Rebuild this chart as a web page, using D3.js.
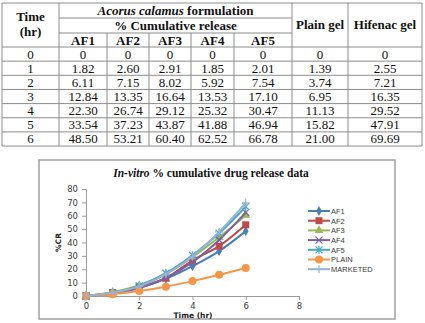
<!DOCTYPE html>
<html>
<head>
<meta charset="utf-8">
<script src="https://cdn.jsdelivr.net/npm/d3@7"></script>
<style>
  body { margin: 0; background: #fff; }
  svg { display: block; }
</style>
</head>
<body>
<div id="chart"></div>
<script>
// data
const time = [0, 1, 2, 3, 4, 5, 6];
const af1 = [0, 1.82, 6.11, 12.84, 22.30, 33.54, 48.50];
const af2 = [0, 2.60, 7.15, 13.35, 26.74, 37.23, 53.21];
const af3 = [0, 2.91, 8.02, 16.64, 29.12, 43.87, 60.40];
const af4 = [0, 1.85, 5.92, 13.53, 25.32, 41.88, 62.52];
const af5 = [0, 2.01, 7.54, 17.10, 30.47, 46.94, 66.78];
const plain = [0, 1.39, 3.74, 6.95, 11.13, 15.82, 21.00];
const hifenac = [0, 2.55, 7.21, 16.35, 29.52, 47.91, 69.69];

const tableCols = ["AF1", "AF2", "AF3", "AF4", "AF5"];
const seriesNames = ["AF1", "AF2", "AF3", "AF4", "AF5", "PLAIN", "MARKETED"];
const xTicks = [0, 2, 4, 6, 8];
const yTicks = [0, 10, 20, 30, 40, 50, 60, 70, 80];

const W = 425, H = 323;
const svg = d3.select("#chart").append("svg")
    .attr("width", W).attr("height", H);

// ---------- table ----------
const serif = "'Liberation Serif', 'Times New Roman', serif";
const colX = [2, 59, 107, 149, 191, 234, 292, 348, 422];
const hdrY = [3, 18, 33, 47];
const rowY = d3.range(8).map(i => 47 + i * 14.15);
const lineCol = "#8c8c8c";

const tbl = svg.append("g");

function hline(x1, x2, y) {
    tbl.append("line").attr("x1", x1).attr("x2", x2).attr("y1", y).attr("y2", y)
        .attr("stroke", lineCol).attr("stroke-width", 1);
}
function vline(x, y1, y2) {
    tbl.append("line").attr("x1", x).attr("x2", x).attr("y1", y1).attr("y2", y2)
        .attr("stroke", lineCol).attr("stroke-width", 1);
}

hline(colX[0], colX[8], hdrY[0]);
hline(colX[1], colX[6], hdrY[1]);
hline(colX[1], colX[6], hdrY[2]);
rowY.forEach(y => hline(colX[0], colX[8], y));
[0, 1, 6, 7, 8].forEach(i => vline(colX[i], hdrY[0], rowY[7]));
[2, 3, 4, 5].forEach(i => vline(colX[i], hdrY[2], rowY[7]));

function cellText(x, y, txt, bold) {
    return tbl.append("text").attr("x", x).attr("y", y)
        .attr("text-anchor", "middle")
        .attr("font-family", serif).attr("font-size", 13)
        .attr("font-weight", bold ? "bold" : "normal")
        .attr("fill", "#111").text(txt);
}

const mid = (a, b) => (a + b) / 2;
cellText(mid(colX[0], colX[1]), 21, "Time", true);
cellText(mid(colX[0], colX[1]), 36, "(hr)", true);
const hdr1 = cellText(mid(colX[1], colX[6]), 15, "", true);
hdr1.append("tspan").attr("font-style", "italic").text("Acorus calamus");
hdr1.append("tspan").text(" formulation");
cellText(mid(colX[1], colX[6]), 30, "% Cumulative release", true);
tableCols.forEach((c, i) => cellText(mid(colX[i + 1], colX[i + 2]), 44.5, c, true));
cellText(mid(colX[6], colX[7]), 29, "Plain gel", true);
cellText(mid(colX[7], colX[8]), 29, "Hifenac gel", true);

const cols = [af1, af2, af3, af4, af5, plain, hifenac];
time.forEach((t, r) => {
    const y = rowY[r] + 11.5;
    cellText(mid(colX[0], colX[1]), y, t, false);
    cols.forEach((arr, c) => {
        const v = arr[r];
        cellText(mid(colX[c + 1], colX[c + 2]), y, v === 0 ? "0" : v.toFixed(2), false);
    });
});

// ---------- chart ----------
const sans = "'DejaVu Sans', Verdana, sans-serif";
const frame = {x: 39, y: 160, w: 356, h: 159};
svg.append("rect")
    .attr("x", frame.x).attr("y", frame.y).attr("width", frame.w).attr("height", frame.h)
    .attr("fill", "#fff").attr("stroke", "#a0a0a0").attr("stroke-width", 1.5);

const x = d3.scaleLinear().domain([0, 8]).range([86, 299]);
const y = d3.scaleLinear().domain([0, 80]).range([296, 189]);

const title = svg.append("text")
    .attr("x", 211).attr("y", 177)
    .attr("text-anchor", "middle")
    .attr("font-family", serif).attr("font-size", 11.5).attr("font-weight", "bold")
    .attr("fill", "#111");
title.append("tspan").attr("font-style", "italic").text("In-vitro");
title.append("tspan").text(" % cumulative drug release data");

const yAxis = svg.append("g")
    .attr("transform", `translate(${x(0)},0)`)
    .call(d3.axisLeft(y).tickValues(yTicks).tickSize(4).tickPadding(4));
const xAxis = svg.append("g")
    .attr("transform", `translate(0,${y(0)})`)
    .call(d3.axisBottom(x).tickValues(xTicks).tickSize(4).tickPadding(3));

[yAxis, xAxis].forEach(a => {
    a.select(".domain").attr("stroke", "#9a9a9a");
    a.selectAll(".tick line").attr("stroke", "#9a9a9a");
    a.selectAll(".tick text").attr("font-family", sans).attr("font-size", 8.5).attr("fill", "#404040");
});

svg.append("text")
    .attr("transform", `translate(61,${y(40)}) rotate(-90)`)
    .attr("text-anchor", "middle")
    .attr("font-family", sans).attr("font-size", 7.5).attr("font-weight", "bold")
    .attr("fill", "#222").text("%CR");

svg.append("text")
    .attr("x", 193).attr("y", 317.5)
    .attr("text-anchor", "middle")
    .attr("font-family", sans).attr("font-size", 7.5).attr("font-weight", "bold")
    .attr("fill", "#222").text("Time (hr)");

// series styles
const colors = ["#4a7ebb", "#be4b48", "#98b954", "#7d60a0", "#46aac5", "#f79646", "#95b3d7"];
const markers = ["diamond", "square", "triangle", "x", "star", "circle", "plus"];
const seriesData = [af1, af2, af3, af4, af5, plain, hifenac];

function drawMarker(g, type, color) {
    if (type === "diamond") {
        g.append("path").attr("d", d3.symbol(d3.symbolDiamond, 28)()).attr("fill", color);
    } else if (type === "square") {
        g.append("rect").attr("x", -3.5).attr("y", -3.5).attr("width", 7).attr("height", 7).attr("fill", color);
    } else if (type === "triangle") {
        g.append("path").attr("d", d3.symbol(d3.symbolTriangle, 34)()).attr("fill", color);
    } else if (type === "circle") {
        g.append("circle").attr("r", 4).attr("fill", color);
    } else if (type === "x") {
        g.append("path").attr("d", "M-3.5,-3.5L3.5,3.5M-3.5,3.5L3.5,-3.5")
            .attr("stroke", color).attr("stroke-width", 1.2).attr("fill", "none");
    } else if (type === "star") {
        g.append("path").attr("d", "M-3.5,-3.5L3.5,3.5M-3.5,3.5L3.5,-3.5M0,-4L0,4")
            .attr("stroke", color).attr("stroke-width", 1.2).attr("fill", "none");
    } else if (type === "plus") {
        g.append("path").attr("d", "M-4,0L4,0M0,-4L0,4")
            .attr("stroke", color).attr("stroke-width", 1.2).attr("fill", "none");
    }
}

const line = d3.line().x((d, i) => x(time[i])).y(d => y(d)).curve(d3.curveMonotoneX);

seriesData.forEach((vals, s) => {
    const g = svg.append("g");
    g.append("path").datum(vals)
        .attr("d", line)
        .attr("fill", "none").attr("stroke", colors[s]).attr("stroke-width", 2);
    vals.forEach((v, i) => {
        const m = g.append("g").attr("transform", `translate(${x(time[i])},${y(v)})`);
        drawMarker(m, markers[s], colors[s]);
    });
});

// legend
const legend = svg.append("g").attr("transform", "translate(308,211)");
seriesNames.forEach((name, i) => {
    const row = legend.append("g").attr("transform", `translate(0,${i * 9.7})`);
    row.append("line").attr("x1", 0).attr("x2", 22).attr("y1", 0).attr("y2", 0)
        .attr("stroke", colors[i]).attr("stroke-width", 2);
    drawMarker(row.append("g").attr("transform", "translate(11,0)"), markers[i], colors[i]);
    row.append("text").attr("x", 23).attr("y", 2.8)
        .attr("font-family", "'Liberation Sans', Arial, sans-serif").attr("font-size", 7.5)
        .attr("fill", "#404040")
        .text(name);
});
</script>
</body>
</html>
